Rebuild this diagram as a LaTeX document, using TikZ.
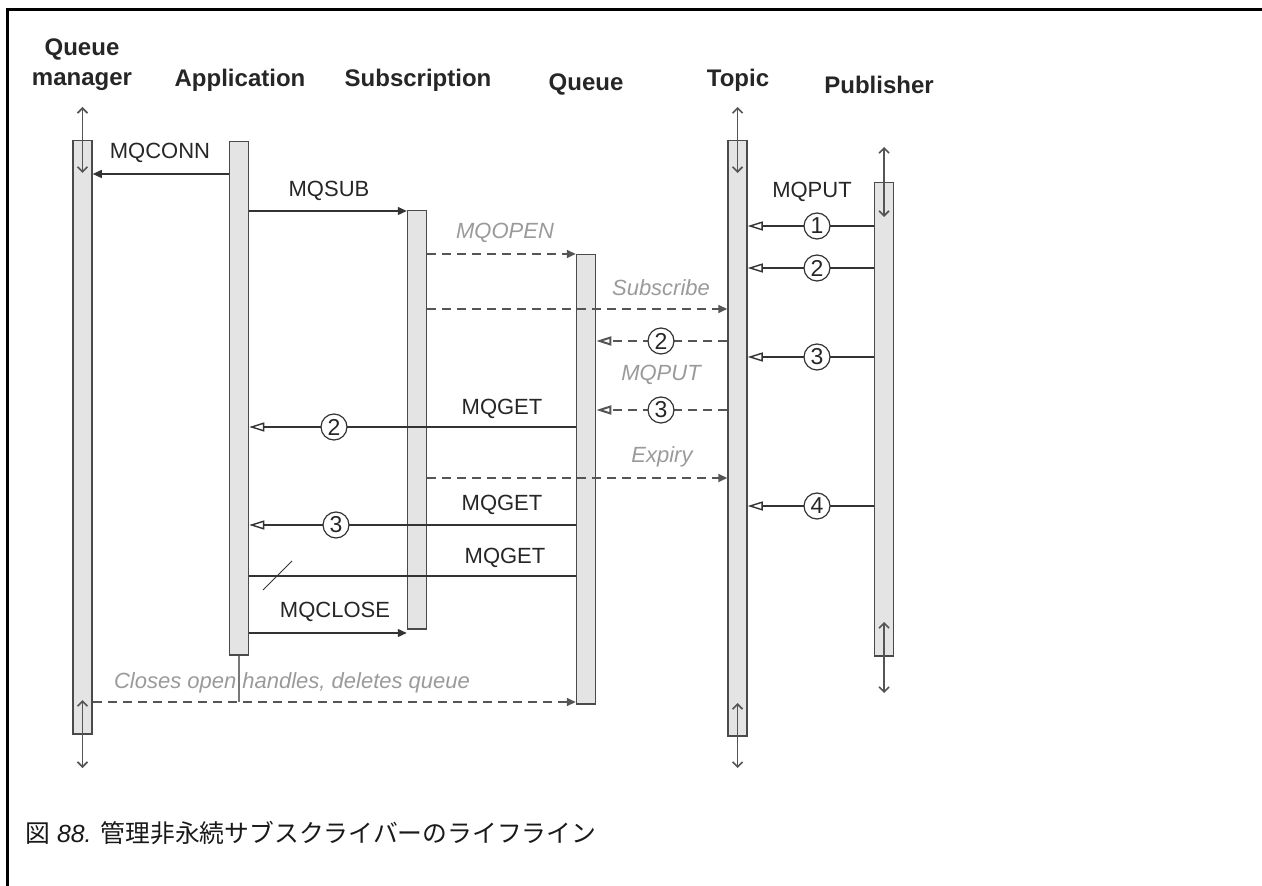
\documentclass[tikz,border=0pt]{standalone}
\usepackage{fontspec}
\setmainfont{Liberation Sans}
\newfontfamily\cjk{Noto Sans CJK JP}
\usetikzlibrary{arrows.meta,calc}
\definecolor{barfill}{HTML}{E4E4E4}
\definecolor{barline}{HTML}{4A4A4A}
\definecolor{msgcol}{HTML}{333333}
\definecolor{dashcol}{HTML}{555555}
\definecolor{lblgray}{HTML}{9A9A9A}
\definecolor{lifecol}{HTML}{555555}
\begin{document}
\begin{tikzpicture}[x=0.5pt,y=-0.5pt,
  bar/.style={draw=barline,fill=barfill,line width=0.75pt,minimum width=9.5pt,inner sep=0pt,anchor=north},
  hdr/.style={font=\fontsize{12}{14}\selectfont\bfseries,text=black!85,align=center,inner sep=0pt},
  lbl/.style={font=\fontsize{11}{13}\selectfont,text=black!85,inner sep=0pt},
  glbl/.style={font=\fontsize{11}{13}\selectfont\itshape,text=lblgray,inner sep=0pt},
  msg/.style={draw=msgcol,line width=0.7pt},
  dmsg/.style={draw=dashcol,line width=1pt,dash pattern=on 4.5pt off 3pt},
  ftip/.style={-{Triangle[length=4.5pt,width=4pt]}},
  otip/.style={-{Triangle[open,length=7.5pt,width=4.5pt]}},
  lifearr/.style={draw=lifecol,line width=0.8pt,{Straight Barb[length=2.5pt,width=5pt]}-{Straight Barb[length=2.5pt,width=5pt]}},
  num/.style={circle,draw=msgcol,line width=0.6pt,fill=white,inner sep=0pt,minimum size=13pt,font=\fontsize{11.5}{13}\selectfont,text=black!85}
]
\useasboundingbox (0,0) rectangle (1262,886);
% frame
\draw[line width=1.5pt] (1262,10) -- (7,10) -- (7,886);

% headers
\node[hdr] (hqm) at (82,65) {Queue\\[1pt]manager};
\node[hdr] (happ) at (240,80) {Application};
\node[hdr] (hsub) at (418,80) {Subscription};
\node[hdr] (hq) at (586,84) {Queue};
\node[hdr] (htop) at (738,80) {Topic};
\node[hdr] (hpub) at (879,85) {Publisher};

% lifeline bars
\node[bar,minimum height=296.5pt] (qm) at (82.5,140) {};
\node[bar,minimum height=256.5pt] (app) at (239,141) {};
\node[bar,minimum height=209pt] (sub) at (417,210) {};
\node[bar,minimum height=224.5pt] (queue) at (586,254) {};
\node[bar,minimum height=297.5pt] (topic) at (737.5,140) {};
\node[bar,minimum height=236.5pt] (pub) at (884,182) {};

% lifeline create/destroy arrows
\draw[lifearr] (qm.north |- 0,107) -- (qm.north |- 0,173);
\draw[lifearr] (qm.north |- 0,700) -- (qm.north |- 0,768);
\draw[lifearr] (topic.north |- 0,107) -- (topic.north |- 0,173);
\draw[lifearr] (topic.north |- 0,703) -- (topic.north |- 0,768);
\draw[lifearr] (pub.north |- 0,147) -- (pub.north |- 0,217);
\draw[lifearr] (pub.north |- 0,622) -- (pub.north |- 0,693);

% MQCONN
\draw[msg,ftip] (app.west |- 0,174) -- (qm.east |- 0,174);
\node[lbl] (lconn) at (160,153) {MQCONN};
% MQSUB
\draw[msg,ftip] (app.east |- 0,211) -- (sub.west |- 0,211);
\node[lbl] (lsub) at (329,191) {MQSUB};
% MQOPEN
\draw[dmsg,ftip] (sub.east |- 0,254) -- (queue.west |- 0,254);
\node[glbl] (lopen) at (505,233) {MQOPEN};
% Subscribe
\draw[dmsg,ftip] (sub.east |- 0,309) -- (topic.west |- 0,309);
\node[glbl] (lsubscr) at (661,288) {Subscribe};

% publisher MQPUTs
\node[lbl] (lput) at (812,192) {MQPUT};
\draw[msg,otip] (pub.west |- 0,226) -- (topic.east |- 0,226);
\node[num] (p1) at (817,226) {1};
\draw[msg,otip] (pub.west |- 0,268) -- (topic.east |- 0,268);
\node[num] (p2) at (817,268) {2};
\draw[msg,otip] (pub.west |- 0,357) -- (topic.east |- 0,357);
\node[num] (p3) at (817,357) {3};
\draw[msg,otip] (pub.west |- 0,506) -- (topic.east |- 0,506);
\node[num] (p4) at (817,506) {4};

% topic -> queue
\draw[dmsg,otip] (topic.west |- 0,341) -- (queue.east |- 0,341);
\node[num] (q2) at (661,341) {2};
\node[glbl] (lqput) at (661,375) {MQPUT};
\draw[dmsg,otip] (topic.west |- 0,410) -- (queue.east |- 0,410);
\node[num] (q3) at (661,410) {3};

% MQGET 2
\draw[msg,otip] (queue.west |- 0,427) -- (app.east |- 0,427);
\node[num] (g2) at (334,427) {2};
\node[lbl] (lget1) at (502,409) {MQGET};

% Expiry
\draw[dmsg,ftip] (sub.east |- 0,478) -- (topic.west |- 0,478);
\node[glbl] (lexp) at (662,457) {Expiry};

% MQGET 3
\draw[msg,otip] (queue.west |- 0,525) -- (app.east |- 0,525);
\node[num] (g3) at (336,525) {3};
\node[lbl] (lget2) at (502,505) {MQGET};

% MQGET lost
\draw[msg] (queue.west |- 0,576) -- (app.east |- 0,576);
\draw[msg,line width=0.5pt] (263,590) -- (292,561);
\node[lbl] (lget3) at (505,558) {MQGET};

% MQCLOSE
\draw[msg,ftip] (app.east |- 0,633) -- (sub.west |- 0,633);
\node[lbl] (lclose) at (335,612) {MQCLOSE};

% closes open handles
\draw[draw=lifecol!80,line width=0.6pt] (app.south) -- (app.south |- 0,702);
\draw[dmsg,ftip] (qm.east |- 0,702) -- (queue.west |- 0,702);
\node[glbl] (lcl) at (292,683) {Closes open handles, deletes queue};

% caption
\node[anchor=west,inner sep=0pt,font=\fontsize{12.4}{14}\selectfont,text=black!90] (cap) at (25,833)
  {{\cjk 図} \textit{88.} {\cjk 管理非永続サブスクライバーのライフライン}};
\end{tikzpicture}
\end{document}
